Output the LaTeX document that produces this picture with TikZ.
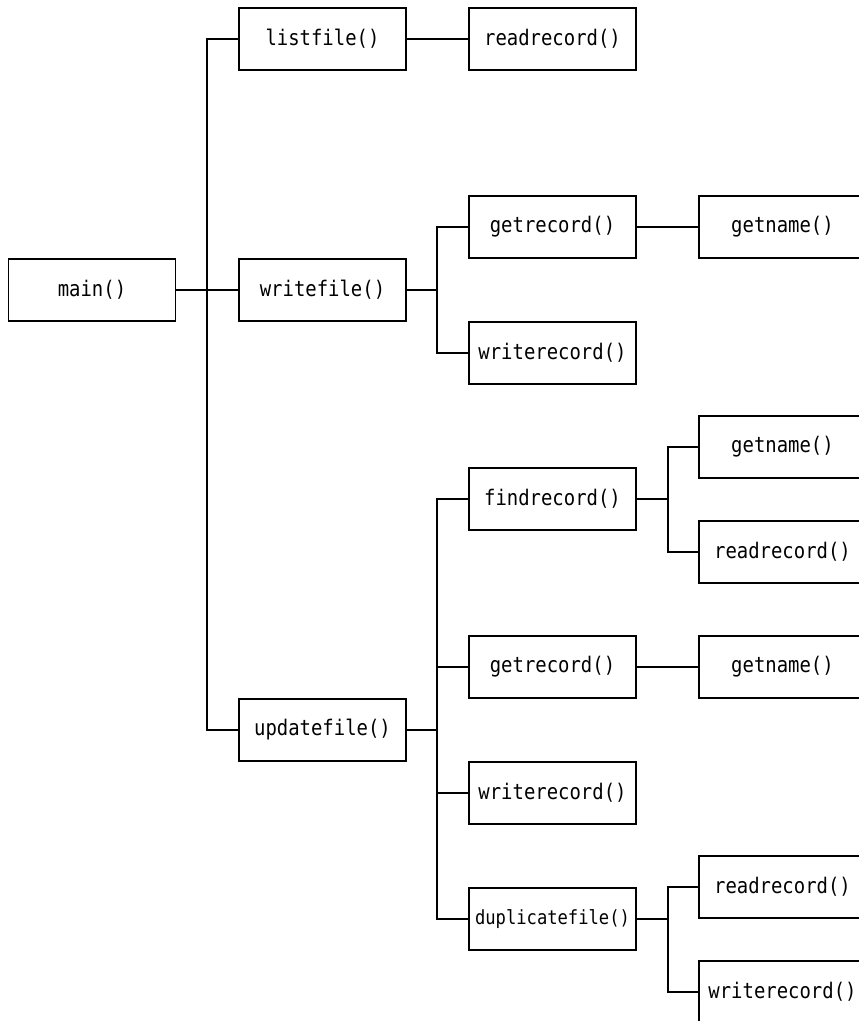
\documentclass[tikz,border=0pt]{standalone}
\usepackage{fontspec}
\setmonofont[FakeStretch=0.88]{DejaVu Sans Mono}
\definecolor{ink}{HTML}{000000}

\begin{document}
\begin{tikzpicture}[x=1pt,y=-1pt,font=\ttfamily,text=ink,
    fn/.style={draw=ink,line width=1.3pt,minimum width=167pt,minimum height=62pt,
      inner sep=0pt,font=\ttfamily\fontsize{21.5}{21.5}\selectfont},
    smallfn/.style={fn,font=\ttfamily\fontsize{19.5}{19.5}\selectfont},
    link/.style={draw=ink,line width=1.2pt},
    stem/.style={draw=ink,line width=2.6pt}]
  \useasboundingbox (0,0) rectangle (859,1021);
  \clip (0,0) rectangle (859,1021);

  % call tree, one column per level
  \node[fn] (main) at (92,290) {main()};

  \node[fn] (listfile) at (322.5,39) {listfile()};
  \node[fn] (writefile) at (322.5,290) {writefile()};
  \node[fn] (updatefile) at (322.5,730) {updatefile()};

  \node[fn] (readrec1) at (552.5,39) {readrecord()};
  \node[fn] (getrec1) at (552.5,227) {getrecord()};
  \node[fn] (writerec1) at (552.5,353) {writerecord()};
  \node[fn] (findrec) at (552.5,499) {findrecord()};
  \node[fn] (getrec2) at (552.5,667) {getrecord()};
  \node[fn] (writerec2) at (552.5,793) {writerecord()};
  \node[smallfn] (dupfile) at (552.5,919) {duplicatefile()};

  \node[fn] (getname1) at (782.5,227) {getname()};
  \node[fn] (getname2) at (782.5,447) {getname()};
  \node[fn] (readrec2) at (782.5,552) {readrecord()};
  \node[fn] (getname3) at (782.5,667) {getname()};
  \node[fn] (readrec3) at (782.5,887) {readrecord()};
  \node[fn] (writerec3) at (782.5,992) {writerecord()};

  \coordinate (mainbus) at (207,290);
  \coordinate (writebus) at (437,290);
  \coordinate (updatebus) at (437,730);
  \coordinate (findbus) at (668,499);
  \coordinate (dupbus) at (668,919);

  \draw[stem] (main) -- (mainbus);
  \draw[link] (mainbus) |- (listfile);
  \draw[link] (mainbus) -- (writefile);
  \draw[link] (mainbus) |- (updatefile);

  \draw[link] (listfile) -- (readrec1);

  \draw[stem] (writefile) -- (writebus);
  \foreach \callee in {getrec1,writerec1}
    \draw[link] (writebus) |- (\callee);
  \draw[link] (getrec1) -- (getname1);

  \draw[stem] (updatefile) -- (updatebus);
  \foreach \callee in {findrec,getrec2,writerec2,dupfile}
    \draw[link] (updatebus) |- (\callee);

  \draw[stem] (findrec) -- (findbus);
  \foreach \callee in {getname2,readrec2}
    \draw[link] (findbus) |- (\callee);
  \draw[link] (getrec2) -- (getname3);

  \draw[stem] (dupfile) -- (dupbus);
  \foreach \callee in {readrec3,writerec3}
    \draw[link] (dupbus) |- (\callee);
\end{tikzpicture}
\end{document}
